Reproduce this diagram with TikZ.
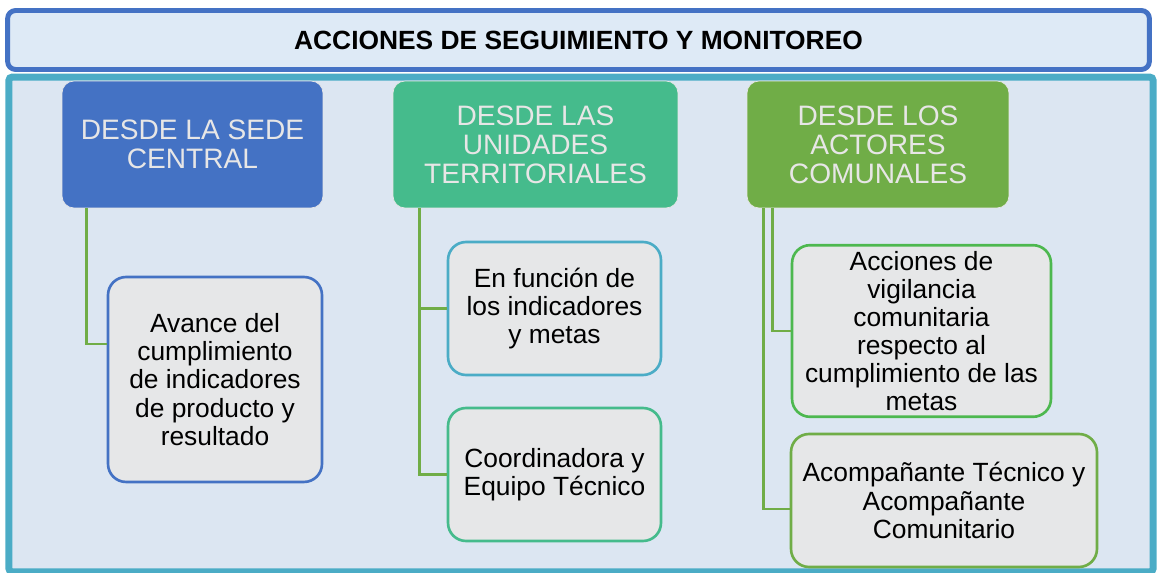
\documentclass[tikz,border=0pt]{standalone}
\usepackage{fontspec}
\setmainfont{Liberation Sans}
\usetikzlibrary{calc,positioning}
\definecolor{azul}{HTML}{4472C4}
\definecolor{turquesa}{HTML}{4BACC6}
\definecolor{menta}{HTML}{45BB8C}
\definecolor{verde}{HTML}{70AD47}
\definecolor{verdeclaro}{HTML}{4DB84F}
\definecolor{fondo}{HTML}{DCE6F2}
\definecolor{fondotitulo}{HTML}{DEEAF6}
\definecolor{gris}{HTML}{E6E7E8}
\definecolor{letra}{HTML}{E7E6E6}

\begin{document}
\begin{tikzpicture}[x=0.02cm,y=-0.02cm,
    cabeza/.style={rounded corners=0.24cm,draw=letra,line width=0.4pt,text=letra,
        align=center,minimum height=2.54cm,font=\fontsize{16}{16.5}\selectfont},
    hoja/.style={rounded corners=0.36cm,fill=gris,line width=1.5pt,align=center,
        font=\fontsize{15}{16}\selectfont},
    rama/.style={verde,line width=1.6pt}]
                \useasboundingbox (0,0) rectangle (1157,573);
                % marco general
                \node [draw=turquesa,fill=fondo,line width=4pt,rounded corners=2pt,
                    minimum width=22.89cm,minimum height=9.9cm] (panel) at (581,324.5) {};
                \node [draw=azul,fill=fondotitulo,line width=2.8pt,rounded corners=0.16cm,
                    minimum width=22.84cm,minimum height=1.18cm,
                    font=\bfseries\fontsize{15}{16}\selectfont] (titulo) at (578.5,40)
                    {ACCIONES DE SEGUIMIENTO Y MONITOREO};
                % cabeceras
                \node [cabeza,fill=azul,minimum width=5.22cm] (sede) at (192.5,144.5)
                    {DESDE LA SEDE\\CENTRAL};
                \node [cabeza,fill=menta,minimum width=5.7cm] (unid) at (535.5,144.5)
                    {DESDE LAS\\UNIDADES\\TERRITORIALES};
                \node [cabeza,fill=verde,minimum width=5.24cm] (act) at (878,144.5)
                    {DESDE LOS\\ACTORES\\COMUNALES};
                % cajas
                \node [hoja,draw=azul,minimum width=4.28cm,minimum height=4.1cm] (avance) at (215,379.5)
                    {Avance del\\cumplimiento\\de indicadores\\de producto y\\resultado};
                \node [hoja,draw=turquesa,minimum width=4.26cm,minimum height=2.66cm] (metas) at (554.5,308.5)
                    {En función de\\los indicadores\\y metas};
                \node [hoja,draw=menta,minimum width=4.26cm,minimum height=2.66cm] (coord) at (554.5,474.5)
                    {Coordinadora y\\Equipo Técnico};
                \node [hoja,draw=verdeclaro,minimum width=5.18cm,minimum height=3.36cm] (vigil) at (921.5,331)
                    {Acciones de\\vigilancia\\comunitaria\\respecto al\\cumplimiento de las\\metas};
                \node [hoja,draw=verde,minimum width=6.12cm,minimum height=2.66cm] (acomp) at (944,500.5)
                    {Acompañante Técnico y\\Acompañante\\Comunitario};
                % ramas
                \draw [rama] ($(sede.south west)+(25,0)$) |- ([yshift=0.71cm]avance.west);
                \draw [rama] ($(unid.south west)+(27,0)$) |- (metas.west);
                \draw [rama] ($(unid.south west)+(27,0)$) |- (coord.west);
                \draw [rama] ($(act.south west)+(26,0)$) |- (vigil.west);
                \draw [rama] ($(act.south west)+(17,0)$) |- ([yshift=-0.17cm]acomp.west);
            \end{tikzpicture}
\end{document}
